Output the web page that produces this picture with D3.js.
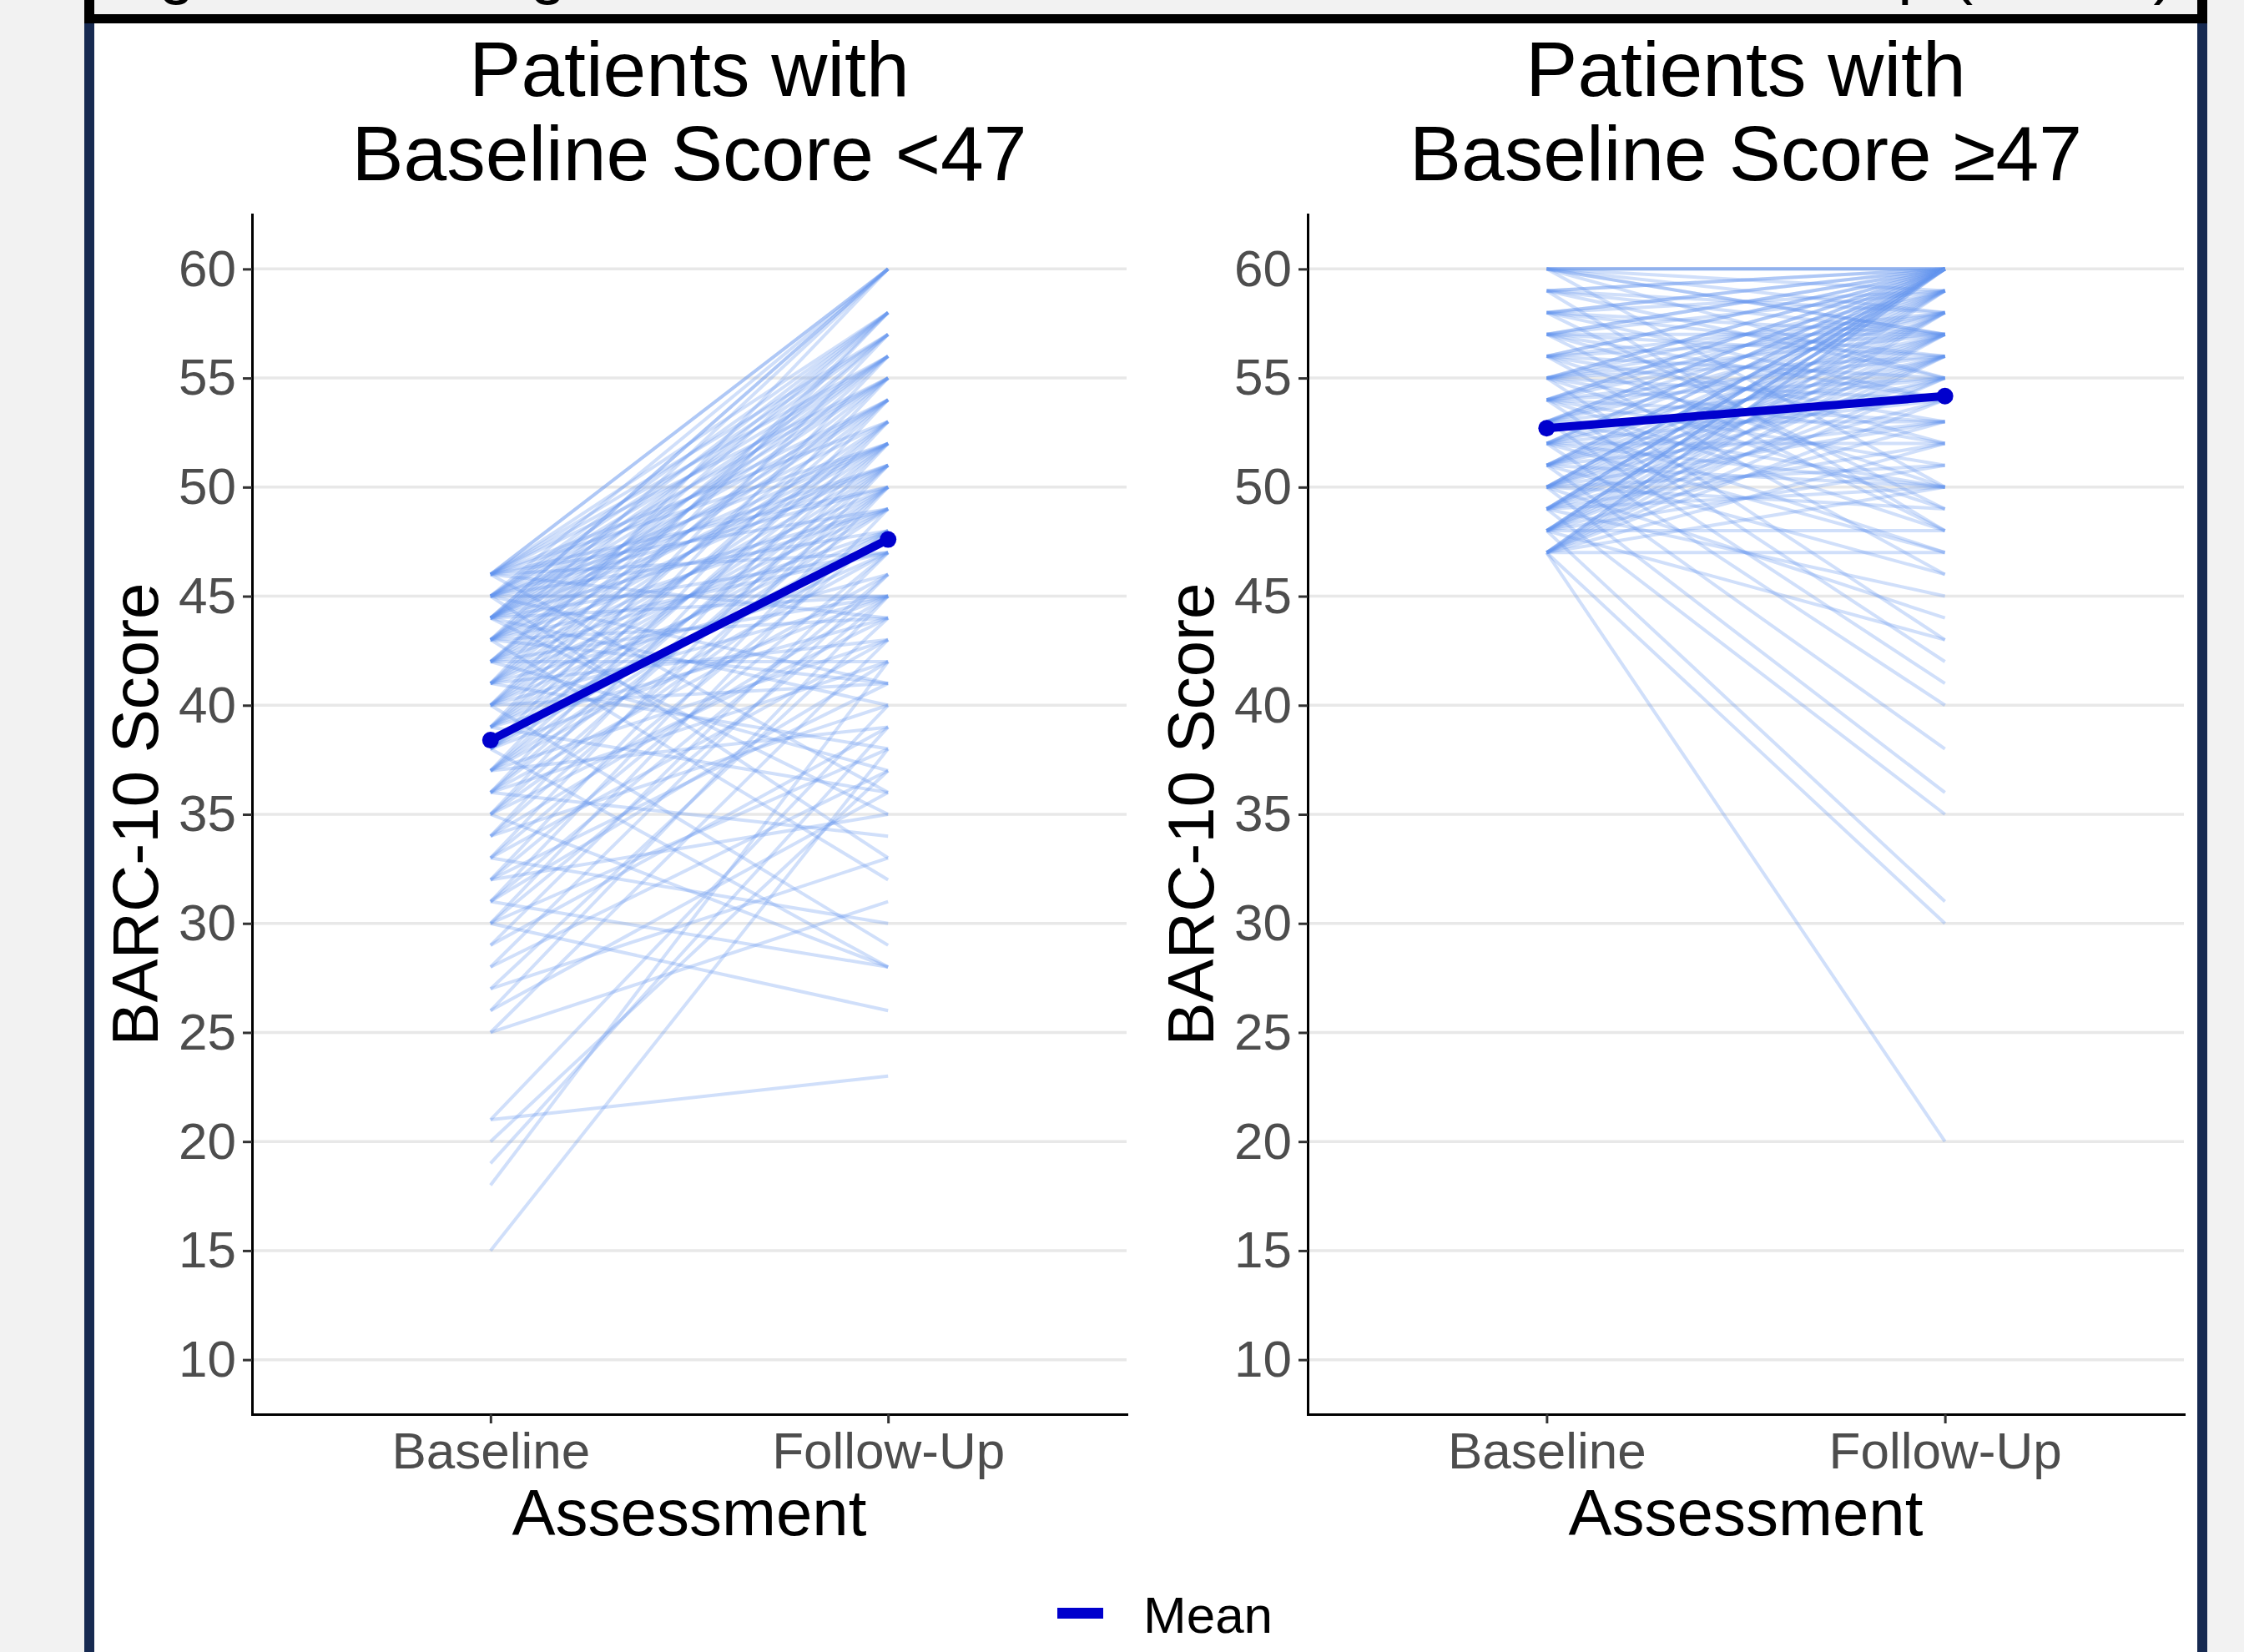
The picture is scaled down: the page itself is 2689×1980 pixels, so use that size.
<!DOCTYPE html>
<html>
<head>
<meta charset="utf-8">
<script src="https://cdn.jsdelivr.net/npm/d3@7"></script>
<style>
  body { margin: 0; background: #f2f2f2; }
  svg { display: block; }
  text { font-family: "Liberation Sans", Arial, Helvetica, sans-serif; }
</style>
</head>
<body>
<div id="vis-container"></div>
<script>
const W = 2689, H = 1980;

const assessments = ["Baseline", "Follow-Up"];
const yTicks = [10, 15, 20, 25, 30, 35, 40, 45, 50, 55, 60];
const panelTitles = [
    ["Patients with", "Baseline Score <47"],
    ["Patients with", "Baseline Score \u226547"]
];

// patients with baseline score < 47 (one entry per patient)
const lowBaseline = [
    46, 46, 46, 46, 46, 46, 46, 46, 46, 46, 46, 46, 46,
    45, 45, 45, 45, 45, 45, 45, 45, 45, 45, 45, 45, 45,
    44, 44, 44, 44, 44, 44, 44, 44, 44, 44, 44, 44, 44, 44, 44,
    43, 43, 43, 43, 43, 43, 43, 43, 43, 43, 43, 43,
    42, 42, 42, 42, 42, 42, 42, 42, 42, 42,
    41, 41, 41, 41, 41, 41, 41, 41, 41,
    40, 40, 40, 40, 40, 40, 40, 40, 40,
    39, 39, 39, 39, 39, 39, 39, 39,
    38, 38, 38, 38, 38, 38, 38,
    37, 37, 37, 37, 37, 37, 37,
    36, 36, 36, 36, 36, 36,
    35, 35, 35, 35, 35,
    34, 34, 34, 34,
    33, 33, 33, 33,
    32, 32, 32, 32,
    31, 31, 31, 31,
    30, 30, 30, 30,
    29, 29, 28, 28, 27, 27, 26, 26, 25, 25, 21, 21,
    20, 19, 18, 15
];
const lowFollowUp = [
    60, 60, 58, 57, 56, 55, 53, 52, 50, 49, 47, 44, 36,
    60, 58, 57, 56, 55, 54, 52, 51, 50, 48, 45, 41, 33,
    60, 60, 58, 57, 56, 55, 54, 53, 52, 51, 49, 47, 45, 40, 35,
    60, 58, 56, 55, 54, 52, 51, 49, 47, 44, 41, 32,
    58, 57, 56, 54, 52, 50, 48, 45, 42, 37,
    60, 57, 55, 53, 51, 49, 46, 43, 38,
    58, 56, 54, 52, 50, 48, 45, 41, 29,
    58, 55, 53, 51, 49, 47, 44, 36,
    57, 54, 52, 50, 48, 45, 28,
    56, 53, 51, 49, 47, 43, 39,
    55, 52, 50, 46, 42, 34,
    54, 51, 48, 44, 28,
    53, 50, 45, 40,
    52, 48, 43, 30,
    51, 47, 41, 35,
    50, 46, 42, 28,
    49, 45, 38, 26,
    47, 39, 46, 37, 44, 33, 45, 36, 43, 31, 23, 40,
    37, 39, 42, 38
];

// patients with baseline score >= 47
const highBaseline = [
    60, 60, 60, 60, 60, 60, 60, 60, 60,
    59, 59, 59, 59, 59, 59,
    58, 58, 58, 58, 58, 58, 58,
    57, 57, 57, 57, 57, 57, 57, 57,
    56, 56, 56, 56, 56, 56, 56, 56,
    55, 55, 55, 55, 55, 55, 55, 55, 55, 55,
    54, 54, 54, 54, 54, 54, 54, 54, 54, 54,
    53, 53, 53, 53, 53, 53, 53, 53, 53, 53,
    52, 52, 52, 52, 52, 52, 52, 52, 52, 52,
    51, 51, 51, 51, 51, 51, 51, 51, 51, 51, 51,
    50, 50, 50, 50, 50, 50, 50, 50, 50, 50, 50, 50, 50,
    49, 49, 49, 49, 49, 49, 49, 49, 49, 49, 49, 49,
    48, 48, 48, 48, 48, 48, 48, 48, 48, 48, 48, 48, 48,
    47, 47, 47, 47, 47, 47, 47, 47, 47, 47, 47, 47, 47
];
const highFollowUp = [
    60, 60, 60, 59, 58, 57, 57, 55, 50,
    60, 60, 58, 57, 55, 48,
    60, 60, 59, 57, 56, 54, 49,
    60, 60, 59, 57, 56, 54, 52, 48,
    60, 60, 58, 57, 55, 53, 50, 46,
    60, 60, 59, 58, 57, 56, 54, 52, 49, 43,
    60, 60, 59, 58, 56, 55, 53, 51, 48, 42,
    60, 60, 59, 58, 57, 55, 53, 50, 47, 41,
    60, 60, 59, 57, 56, 54, 52, 50, 47, 40,
    60, 60, 59, 58, 57, 56, 55, 53, 50, 46, 38,
    60, 60, 60, 59, 58, 57, 56, 55, 53, 51, 49, 44, 36,
    60, 60, 60, 59, 58, 57, 56, 54, 52, 50, 45, 35,
    60, 60, 60, 59, 58, 57, 56, 55, 53, 51, 48, 43, 31,
    60, 60, 59, 58, 57, 56, 55, 54, 52, 50, 47, 30, 20
];

const groups = [
    { baseline: lowBaseline, followUp: lowFollowUp },
    { baseline: highBaseline, followUp: highFollowUp }
];

// layout
const panelLeft = [302, 1567];
const panelRight = [1350, 2617];
const plotTop = 257, plotBottom = 1695;
const font = "\"Liberation Sans\", Arial, Helvetica, sans-serif";

const svg = d3.select("#vis-container")
    .append("svg")
    .attr("width", W)
    .attr("height", H);

// page frame
svg.append("rect").attr("width", W).attr("height", H).attr("fill", "#f2f2f2");
svg.append("rect").attr("x", 113).attr("y", 28).attr("width", 2520).attr("height", H - 28).attr("fill", "#ffffff");
svg.append("rect").attr("x", 101).attr("y", 28).attr("width", 12).attr("height", H - 28).attr("fill", "#172a51");
svg.append("rect").attr("x", 2633).attr("y", 28).attr("width", 12).attr("height", H - 28).attr("fill", "#172a51");

// figure caption box, cut off at the top of the picture
svg.append("clipPath").attr("id", "capclip")
    .append("rect").attr("x", 113).attr("y", 0).attr("width", 2520).attr("height", 17);
svg.append("text")
    .attr("clip-path", "url(#capclip)")
    .attr("x", 126)
    .attr("y", -10)
    .attr("font-size", 77)
    .attr("fill", "#000")
    .text("Figure 2. Change in BARC-10 Score from Baseline to Follow-Up (n=288)");
svg.append("rect").attr("x", 101).attr("y", 17).attr("width", 2544).attr("height", 11).attr("fill", "#000");
svg.append("rect").attr("x", 101).attr("y", 0).attr("width", 12).attr("height", 28).attr("fill", "#000");
svg.append("rect").attr("x", 2633).attr("y", 0).attr("width", 12).attr("height", 28).attr("fill", "#000");

const y = d3.scaleLinear()
    .domain([7.5, 62.5])
    .range([plotBottom, plotTop]);

const line = d3.line()
    .x(d => d[0])
    .y(d => d[1]);

groups.forEach((g, p) => {
    const x = d3.scalePoint()
        .domain(assessments)
        .range([panelLeft[p], panelRight[p]])
        .padding(0.6);
    const cx = (panelLeft[p] + panelRight[p]) / 2;

    const panel = svg.append("g");

    // grid
    panel.selectAll("line.grid")
        .data(yTicks)
        .enter().append("line")
        .attr("class", "grid")
        .attr("x1", panelLeft[p])
        .attr("x2", panelRight[p])
        .attr("y1", d => y(d))
        .attr("y2", d => y(d))
        .attr("stroke", "#e8e8e8")
        .attr("stroke-width", 3.5);

    // one line per patient
    panel.append("g")
        .selectAll("path")
        .data(g.baseline.map((b, i) => [b, g.followUp[i]]))
        .enter().append("path")
        .attr("d", d => line([[x("Baseline"), y(d[0])], [x("Follow-Up"), y(d[1])]]))
        .attr("fill", "none")
        .attr("stroke", "#6495ed")
        .attr("stroke-opacity", 0.3)
        .attr("stroke-width", 4);

    // mean
    const means = [d3.mean(g.baseline), d3.mean(g.followUp)];
    const meanPts = assessments.map((a, i) => [x(a), y(means[i])]);
    panel.append("path")
        .attr("d", line(meanPts))
        .attr("fill", "none")
        .attr("stroke", "#0000cd")
        .attr("stroke-width", 10);
    panel.selectAll("circle")
        .data(meanPts)
        .enter().append("circle")
        .attr("cx", d => d[0])
        .attr("cy", d => d[1])
        .attr("r", 10)
        .attr("fill", "#0000cd");

    // axes
    const yAxis = panel.append("g")
        .attr("transform", `translate(${panelLeft[p]},0)`)
        .call(d3.axisLeft(y).tickValues(yTicks).tickSize(11).tickSizeOuter(0).tickPadding(8));
    const xAxis = panel.append("g")
        .attr("transform", `translate(0,${plotBottom})`)
        .call(d3.axisBottom(x).tickSize(11).tickSizeOuter(0).tickPadding(10));

    [yAxis, xAxis].forEach(ax => {
        ax.attr("font-family", font).attr("font-size", 62);
        ax.select(".domain").attr("stroke", "#000").attr("stroke-width", 3).attr("stroke-linecap", "square");
        ax.selectAll(".tick line").attr("stroke", "#333").attr("stroke-width", 3);
        ax.selectAll(".tick text").attr("fill", "#4d4d4d");
    });

    // titles
    panel.selectAll("text.ptitle")
        .data(panelTitles[p])
        .enter().append("text")
        .attr("class", "ptitle")
        .attr("x", cx)
        .attr("y", (d, i) => 115 + i * 101)
        .attr("text-anchor", "middle")
        .attr("font-size", 93)
        .attr("fill", "#000")
        .text(d => d);

    panel.append("text")
        .attr("transform", `translate(${panelLeft[p] - 113},${(plotTop + plotBottom) / 2}) rotate(-90)`)
        .attr("text-anchor", "middle")
        .attr("font-size", 78)
        .attr("fill", "#000")
        .text("BARC-10 Score");

    panel.append("text")
        .attr("x", cx)
        .attr("y", 1840)
        .attr("text-anchor", "middle")
        .attr("font-size", 78)
        .attr("fill", "#000")
        .text("Assessment");
});

// legend
svg.append("rect")
    .attr("x", 1267)
    .attr("y", 1927)
    .attr("width", 55)
    .attr("height", 13)
    .attr("fill", "#0000cd");
svg.append("text")
    .attr("x", 1370)
    .attr("y", 1957)
    .attr("font-size", 62)
    .attr("fill", "#000")
    .text("Mean");
</script>
</body>
</html>
